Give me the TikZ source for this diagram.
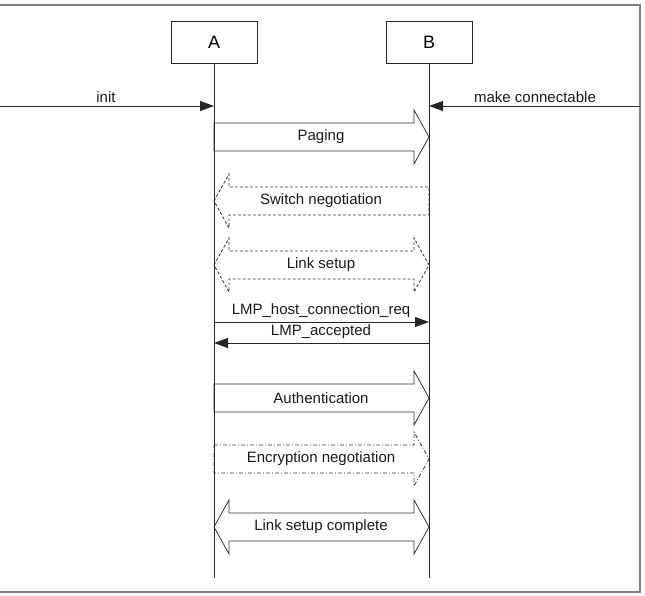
\documentclass[tikz,border=0pt]{standalone}
\usepackage{fontspec}
\setmainfont{Liberation Sans}
\usetikzlibrary{arrows.meta}
\tikzstyle{entity} = [rectangle, draw=black!85, line width=.9pt, minimum width=86pt, minimum height=42pt, font=\fontsize{18}{20}\selectfont]
\tikzstyle{lifeline} = [draw=black!85, line width=.9pt]
\tikzstyle{msg} = [draw=black!85, line width=.9pt, -{Triangle[length=14pt,width=10pt]}]
\tikzstyle{lbl} = [font=\fontsize{15}{17}\selectfont, text=black!90, inner sep=1pt]
\tikzstyle{block} = [draw=black!80, line width=.8pt]
\tikzstyle{dashblock} = [block, dash pattern=on 3pt off 2pt]
\tikzstyle{dotblock} = [block, dash pattern=on 4pt off 2pt on 1pt off 2pt]
% block arrows between the lifelines, #1 = height, #2 = style, #3 = text
\newcommand{\toB}[3]{\draw[#2] (A |- 0,#1-14) -- ([xshift=-15pt]B |- 0,#1-14) -- ([xshift=-15pt]B |- 0,#1-27) -- (B |- 0,#1) -- ([xshift=-15pt]B |- 0,#1+27) -- ([xshift=-15pt]B |- 0,#1+14) -- (A |- 0,#1+14) -- cycle;
  \node[lbl] at (M |- 0,#1) {#3};}
\newcommand{\toA}[3]{\draw[#2] (A |- 0,#1) -- ([xshift=15pt]A |- 0,#1-27) -- ([xshift=15pt]A |- 0,#1-14) -- (B |- 0,#1-14) -- (B |- 0,#1+14) -- ([xshift=15pt]A |- 0,#1+14) -- ([xshift=15pt]A |- 0,#1+27) -- cycle;
  \node[lbl] at (M |- 0,#1) {#3};}
\newcommand{\both}[3]{\draw[#2] (A |- 0,#1) -- ([xshift=15pt]A |- 0,#1-27) -- ([xshift=15pt]A |- 0,#1-14) -- ([xshift=-15pt]B |- 0,#1-14) -- ([xshift=-15pt]B |- 0,#1-27) -- (B |- 0,#1) -- ([xshift=-15pt]B |- 0,#1+27) -- ([xshift=-15pt]B |- 0,#1+14) -- ([xshift=15pt]A |- 0,#1+14) -- ([xshift=15pt]A |- 0,#1+27) -- cycle;
  \node[lbl] at (M |- 0,#1) {#3};}

\begin{document}
\begin{tikzpicture}[x=1pt, y=-1pt]
	\useasboundingbox (0,0) rectangle (645,596);
	\draw[black!50, line width=1.2pt] (0,5) -- (640,5) -- (640,592) -- (0,592);
	% entities
	\node[entity] (A) at (214,42) {A};
	\node[entity] (B) at (429,42) {B};
	\coordinate (M) at (321,42);
	\coordinate (Aend) at (214,578);
	\coordinate (Bend) at (429,578);
	\draw[lifeline] (A.south) -- (Aend);
	\draw[lifeline] (B.south) -- (Bend);
	% external events
	\coordinate (init) at (0,106);
	\coordinate (mc) at (640,106);
	\draw[msg] (init) -- (init -| A);
	\draw[msg] (mc) -- (mc -| B);
	\node[lbl] at (106,97) {init};
	\node[lbl] at (535,97) {make connectable};
	% procedures
	\toB{137}{block}{Paging}
	\toA{201}{dashblock}{Switch negotiation}
	\both{265}{dashblock}{Link setup}
	\draw[msg] (A |- 0,322) -- (B |- 0,322);
	\node[lbl] at (M |- 0,311) {LMP\_host\_connection\_req};
	\draw[msg] (B |- 0,343) -- (A |- 0,343);
	\node[lbl] at (M |- 0,332) {LMP\_accepted};
	\toB{398}{block}{Authentication}
	\toB{459}{dotblock}{Encryption negotiation}
	\both{527}{block}{Link setup complete}
\end{tikzpicture}
\end{document}
